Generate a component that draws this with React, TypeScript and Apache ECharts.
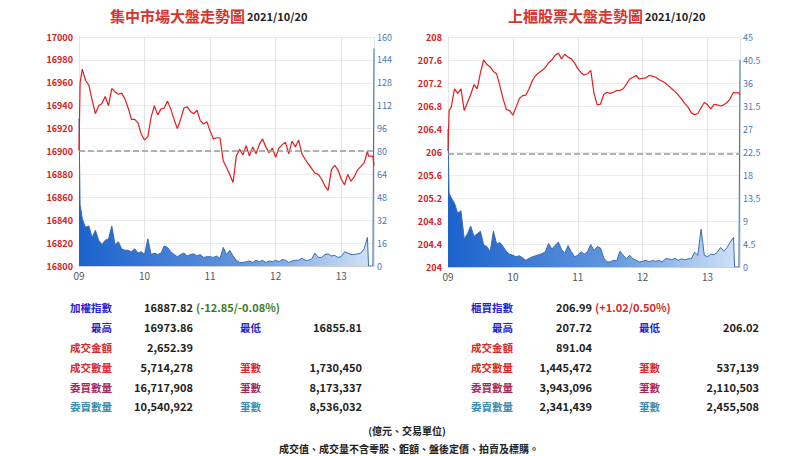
import React, { useEffect, useRef } from 'react';
import * as echarts from 'echarts';

// minutes since 09:00 for every sample (3-minute grid, plus the closing call)
const MINUTES: number[] = [0, 1, ...Array.from({ length: 88 }, (_, i) => 3 + 3 * i), 265, 269, 270];
const HOURS = ['09', '10', '11', '12', '13'];

// 集中市場 (TAIEX) index
const twseIndex = [
  16900.6, 16960,
  16972, 16962, 16958, 16945, 16933, 16940, 16942, 16948, 16940, 16955,
  16952, 16950, 16951, 16946, 16938, 16928, 16928, 16925, 16915, 16910,
  16913, 16930, 16940, 16932, 16937, 16938, 16944, 16937, 16928, 16920,
  16928, 16938, 16939, 16935, 16933, 16936, 16927, 16924, 16926, 16918,
  16911, 16912, 16912, 16892, 16886, 16880, 16873, 16896, 16902, 16897,
  16905, 16896, 16904, 16898, 16906, 16911, 16904, 16899, 16903, 16895,
  16903, 16906, 16908, 16898, 16909, 16904, 16910, 16898, 16893, 16889,
  16885, 16881, 16880, 16876, 16870, 16866, 16884, 16888, 16884, 16876,
  16871, 16880, 16874, 16878, 16884, 16887, 16890, 16900,
  16896, 16896, 16887.82,
];
// 集中市場 volume (億元)
const twseVolume = [
  103, 43,
  33, 27, 28, 20, 25, 18, 15, 18, 19, 28,
  15, 17, 12, 11, 11, 10, 12, 9, 10, 8,
  19, 8, 9, 8, 9, 14, 13, 10, 8, 6.5,
  8, 9, 7, 8, 8.5, 7, 8, 6, 6.5, 6.5,
  6, 7, 5, 13, 8, 11, 7, 4, 2.5, 2.5,
  3, 3.5, 2.5, 4, 3, 4, 2.5, 3.5, 3, 4,
  3, 4.5, 4, 2.5, 3.5, 4, 4, 5.5, 4, 4,
  5, 9, 6, 6, 8, 8.5, 7, 7.5, 6, 6.5,
  10, 9, 8, 8, 8.5, 9, 12, 20,
  0, 0, 152,
];
const twsePrevClose = 16900.67;

// 上櫃 (TPEx) index
const tpexIndex = [
  206.02, 206.72,
  206.78, 207.1, 207.02, 207.1, 206.72, 206.86, 207.0, 207.17, 207.1, 207.38,
  207.6, 207.52, 207.48, 207.4, 207.36, 207.15, 206.92, 206.74, 206.72, 206.64,
  206.78, 206.93, 206.98, 206.99, 207.1, 207.24, 207.33, 207.38, 207.42, 207.47,
  207.55, 207.6, 207.68, 207.72, 207.62, 207.7, 207.65, 207.62, 207.55, 207.45,
  207.38, 207.34, 207.36, 207.42, 207.02, 206.82, 206.83, 207.0, 207.04, 207.02,
  207.04, 207.07, 207.07, 207.1, 207.18, 207.27, 207.3, 207.33, 207.27, 207.28,
  207.29, 207.33, 207.32, 207.3, 207.26, 207.23, 207.2, 207.15, 207.1, 207.05,
  206.99, 206.92, 206.84, 206.78, 206.68, 206.65, 206.67, 206.77, 206.86, 206.82,
  206.75, 206.83, 206.82, 206.8, 206.82, 206.86, 206.93, 207.04,
  207.03, 207.03, 206.99,
];
// 上櫃 volume (億元)
const tpexVolume = [
  27, 14.5,
  13.5, 12.5, 10.5, 11, 5.5, 6.5, 8, 6, 6.5, 7,
  4.3, 4, 3, 7, 4.5, 4.8, 4, 3, 2.5, 2.3,
  2, 2.2, 1.8, 1.3, 1.7, 2, 2.2, 2.4, 2.6, 3,
  4.6, 3.5, 4.2, 4.9, 3.4, 2.7, 4.2, 3, 2, 2.3,
  3, 2.5, 3, 4.4, 3.2, 4, 3.7, 1.8, 1, 1,
  1.3, 1.2, 3.1, 2.3, 1.6, 2.3, 1.6, 1.3, 1, 1.1,
  1.3, 1, 1.3, 1.1, 1.3, 1, 1.6, 1.6, 1.4, 1.7,
  1.3, 1.6, 1.4, 1.6, 1.6, 2.9, 2.3, 7.4, 2.3, 2,
  2.5, 2.4, 2.9, 3.8, 3.1, 3.8, 4.9, 5.8,
  0, 0, 40.5,
];
const tpexPrevClose = 205.97;

// titles
const titles = ['集中市場大盤走勢圖', '上櫃股票大盤走勢圖'];
const dateText = '2021/10/20';

// tables
const rowLabels1 = [
  ['加權指數', '最高', '成交金額', '成交數量', '委買數量', '委賣數量'],
  ['櫃買指數', '最高', '成交金額', '成交數量', '委買數量', '委賣數量'],
];
const rowLabels2 = ['', '最低', '', '筆數', '筆數', '筆數'];
const twseValues1 = ['16887.82', '16973.86', '2,652.39', '5,714,278', '16,717,908', '10,540,922'];
const twseValues2 = ['', '16855.81', '', '1,730,450', '8,173,337', '8,536,032'];
const tpexValues1 = ['206.99', '207.72', '891.04', '1,445,472', '3,943,096', '2,341,439'];
const tpexValues2 = ['', '206.02', '', '537,139', '2,110,503', '2,455,508'];
const changes = ['(-12.85/-0.08%)', '(+1.02/0.50%)'];
const footnotes = ['(億元、交易單位)', '成交值、成交量不含零股、鉅額、盤後定價、拍賣及標購。'];

const FONT = "'Noto Sans CJK TC', 'Noto Sans', sans-serif";
const rowColors = ['#2626c8', '#2626c8', '#d42a2a', '#d42a2a', '#a3295a', '#3a8db0'];
const rowY = [307, 327, 347, 367, 387, 406];

function txt(text: string, x: number, y: number, fill: string, size: number, align: string, weight: string = 'bold') {
  return {
    type: 'text',
    x,
    y,
    silent: true,
    style: {
      text,
      fill,
      fontSize: size,
      fontWeight: weight,
      fontFamily: FONT,
      textAlign: align,
      align,
      textVerticalAlign: 'middle',
      verticalAlign: 'middle',
    },
  };
}

function buildGraphic() {
  const els: any[] = [];
  const titleX = [110, 508];
  const dateX = [247, 645];
  titles.forEach((t, i) => {
    els.push(txt(t, titleX[i], 15, '#d6342f', 15, 'left'));
    els.push(txt(dateText, dateX[i], 16, '#222', 11, 'left'));
  });
  const labelRight = [112, 513];
  const valRight = [193, 592];
  const label2Left = [240, 639];
  const val2Right = [362, 759];
  const vals1 = [twseValues1, tpexValues1];
  const vals2 = [twseValues2, tpexValues2];
  const changeColors = ['#3b7d2b', '#d42a2a'];
  for (let k = 0; k < 2; k++) {
    for (let r = 0; r < 6; r++) {
      els.push(txt(rowLabels1[k][r], labelRight[k], rowY[r], rowColors[r], 10.5, 'right'));
      els.push(txt(vals1[k][r], valRight[k], rowY[r], '#222', 11, 'right'));
      if (rowLabels2[r]) {
        els.push(txt(rowLabels2[r], label2Left[k], rowY[r], rowColors[r], 10.5, 'left'));
        els.push(txt(vals2[k][r], val2Right[k], rowY[r], '#222', 11, 'right'));
      }
    }
    els.push(txt(changes[k], valRight[k] + 3, rowY[0], changeColors[k], 11, 'left'));
  }
  els.push(txt(footnotes[0], 407, 430, '#222', 10, 'center'));
  els.push(txt(footnotes[1], 409, 448, '#222', 10, 'center'));
  return els;
}

const zip = (ys: number[]) => MINUTES.map((m, i) => [m, ys[i]]);

function areaGradient() {
  return new echarts.graphic.LinearGradient(0, 0, 1, 0, [
    { offset: 0, color: '#1b62cc' },
    { offset: 0.55, color: '#6196dc' },
    { offset: 1, color: '#d3e4f7' },
  ]);
}

function buildOption() {
  const xAxis = [0, 1].map((i) => ({
    type: 'value',
    gridIndex: i,
    min: 0,
    max: 270,
    interval: 60,
    axisLine: { show: true, lineStyle: { color: '#cfcfcf' } },
    axisTick: { show: false },
    splitLine: { show: true, lineStyle: { color: '#e4e4e4' } },
    axisLabel: {
      formatter: (v: number) => HOURS[v / 60] ?? '',
      color: '#555',
      fontSize: 10,
      margin: 4,
      fontFamily: FONT,
    },
  }));
  const leftAxisBase = {
    type: 'value',
    position: 'left',
    axisLine: { show: false },
    axisTick: { show: false },
    splitLine: { show: true, lineStyle: { color: '#ececec' } },
    axisLabel: {
      color: '#d42020',
      fontSize: 9,
      fontWeight: 'bold',
      margin: 6,
      fontFamily: FONT,
      formatter: (v: number) => String(Math.round(v * 100) / 100),
    },
  };
  const rightAxisBase = {
    type: 'value',
    position: 'right',
    axisLine: { show: false },
    axisTick: { show: false },
    splitLine: { show: false },
    axisLabel: {
      color: '#4a7ab4',
      fontSize: 9,
      margin: 3,
      fontFamily: FONT,
      formatter: (v: number) => String(Math.round(v * 100) / 100),
    },
  };
  const yAxis = [
    { ...leftAxisBase, gridIndex: 0, min: 16800, max: 17000, interval: 20 },
    { ...rightAxisBase, gridIndex: 0, min: 0, max: 160, interval: 16 },
    { ...leftAxisBase, gridIndex: 1, min: 204, max: 208, interval: 0.4 },
    { ...rightAxisBase, gridIndex: 1, min: 0, max: 45, interval: 4.5 },
  ];
  const volSeries = (xi: number, yi: number, data: number[]) => ({
    type: 'line',
    xAxisIndex: xi,
    yAxisIndex: yi,
    data: zip(data),
    symbol: 'none',
    lineStyle: { color: '#3a6cb4', width: 1 },
    areaStyle: { color: areaGradient(), opacity: 1 },
    z: 2,
  });
  const idxSeries = (xi: number, yi: number, data: number[], prev: number) => ({
    type: 'line',
    xAxisIndex: xi,
    yAxisIndex: yi,
    data: zip(data),
    symbol: 'none',
    lineStyle: { color: '#e41c1c', width: 1.2 },
    z: 3,
    markLine: {
      silent: true,
      symbol: 'none',
      label: { show: false },
      lineStyle: { color: '#9a9a9a', type: [6, 3], width: 1.5 },
      data: [{ yAxis: prev }],
    },
  });
  return {
    animation: false,
    backgroundColor: '#fff',
    grid: [
      { left: 79, top: 37, width: 295, height: 229 },
      { left: 448, top: 37, width: 292, height: 230 },
    ],
    xAxis,
    yAxis,
    series: [
      volSeries(0, 1, twseVolume),
      idxSeries(0, 0, twseIndex, twsePrevClose),
      volSeries(1, 3, tpexVolume),
      idxSeries(1, 2, tpexIndex, tpexPrevClose),
    ],
    graphic: buildGraphic(),
  };
}

export default function App() {
  const ref = useRef<HTMLDivElement>(null);
  useEffect(() => {
    if (!ref.current) return;
    const chart = echarts.init(ref.current, null, { renderer: 'svg' });
    chart.setOption(buildOption() as any);
    return () => chart.dispose();
  }, []);
  return (
    <div
      ref={ref}
      style={{ position: 'fixed', left: 0, top: 0, width: 810, height: 456, background: '#fff' }}
    />
  );
}
